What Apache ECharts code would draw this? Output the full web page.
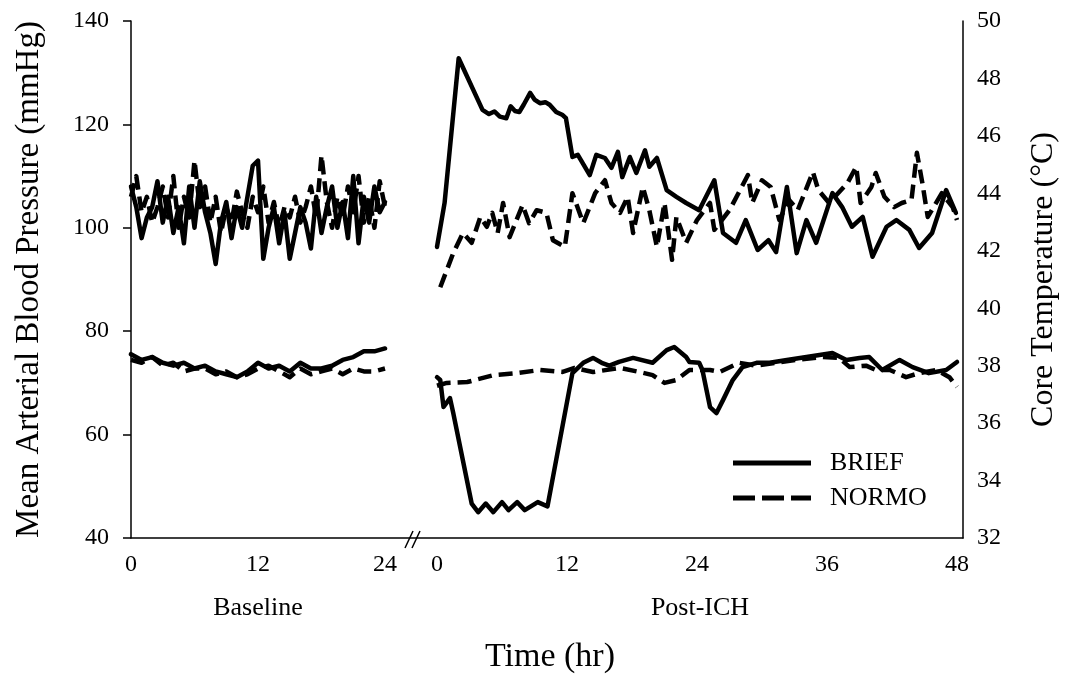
<!DOCTYPE html>
<html>
<head>
<meta charset="utf-8">
<script src="https://cdn.jsdelivr.net/npm/echarts@6/dist/echarts.min.js"></script>
<style>html,body{margin:0;padding:0;background:#fff}#c{width:1068px;height:678px}</style>
</head>
<body>
<div id="c"></div>
<script>
// ---- Data ----
const xTicksBaseline = [0, 12, 24];
const xTicksPost = [0, 12, 24, 36, 48];
const legendNames = ['BRIEF', 'NORMO'];

// Baseline MABP (every 0.5 h, 0..24)
const baseMapT = [0,0.5,1,1.5,2,2.5,3,3.5,4,4.5,5,5.5,6,6.5,7,7.5,8,8.5,9,9.5,10,10.5,11,11.5,12,12.5,13,13.5,14,14.5,15,15.5,16,16.5,17,17.5,18,18.5,19,19.5,20,20.5,21,21.5,22,22.5,23,23.5,24];
const baseBriefMap = [108,104,98,102,104,109,101,106,99,104,97,108,100,109,103,99,93,101,105,98,104,100,106,112,113,94,100,104,97,103,94,99,104,101,96,106,99,104,108,100,105,98,110,97,106,101,108,103,105];
const baseNormoMap = [106,110,103,106,101,104,108,102,110,100,106,102,113,104,108,101,106,99,104,101,107,103,100,106,103,108,101,105,100,104,102,106,101,104,108,102,114,105,100,106,102,108,103,110,101,106,100,109,104];

// Baseline temperature (hourly)
const baseTempT = [0,1,2,3,4,5,6,7,8,9,10,11,12,13,14,15,16,17,18,19,20,21,22,23,24];
const baseBriefTemp = [38.4,38.2,38.3,38.1,38.0,38.1,37.9,38.0,37.8,37.7,37.6,37.8,38.1,37.9,38.0,37.8,38.1,37.9,37.9,38.0,38.2,38.3,38.5,38.5,38.6];
const baseNormoTemp = [38.2,38.1,38.3,38.0,38.1,37.8,37.9,37.9,37.7,37.8,37.6,37.7,37.9,38.0,37.8,37.6,37.9,37.7,37.8,37.9,37.7,37.9,37.8,37.8,37.9];

// Post-ICH MABP
const postBriefMapT = [0,0.7,2,4.2,4.8,5.3,5.8,6.4,6.8,7.2,7.6,8,8.6,9,9.5,10,10.4,11,11.6,11.9,12.5,13,14.1,14.7,15.5,16.1,16.7,17.1,17.8,18.4,19.2,19.6,20.3,21.2,22.1,23,24.2,25.6,26.4,27.6,28.5,29.6,30.6,31.3,32.3,33.2,34.1,35,36.5,37.4,38.3,39.3,40.2,41.5,42.4,43.6,44.5,45.7,47,47.9];
const postBriefMap = [96.3,104.8,132.8,122.8,122.0,122.5,121.5,121.2,123.5,122.6,122.4,123.8,126.1,124.8,124.1,124.3,123.8,122.4,121.8,121.2,113.7,114.1,110.2,114.1,113.5,111.6,114.7,109.8,113.7,110.6,115,111.8,113.5,107.3,106,104.8,103.4,109.2,99,97.1,101.5,95.7,97.6,95.3,107.9,95.1,101.5,97.1,106.7,104,100.2,102.1,94.4,100.2,101.5,99.6,96.1,99,107.3,102.9];
const postNormoMapT = [0.3,1.5,2.4,3.2,4,4.6,5.1,5.6,6.1,6.7,7.9,8.5,9.2,10.1,10.7,11.8,12.5,13.5,14.6,15.5,16.1,16.9,17.6,18.1,19,19.6,20.3,21,21.7,22.1,23,24,25.2,25.6,27,28.7,29.1,30,30.8,31.6,32.5,33.3,34.7,35.2,36.2,37.9,38.7,39.1,40.1,40.5,41.3,42.2,42.9,43.8,44.3,44.8,45.3,46.6,47.6,48];
const postNormoMap = [88.5,95.1,99,97.1,102.1,100.2,102.9,99,104.8,98.2,104.4,100.9,103.4,102.9,97.6,96.3,106.7,100.9,106.7,109.2,104.8,102.9,106,99,107.9,103.4,96.3,104.8,93.8,102.1,97.1,101.5,104.8,99.6,103.4,110.2,104.8,109.2,107.9,101.5,105.4,103.4,110.8,107.3,104.8,108.7,111.8,104.8,107.9,110.6,106,104,104.8,105.4,114.5,108.7,102.1,106.7,104,101.5];

// Post-ICH temperature
const postBriefTempT = [0,0.3,0.6,1.2,1.5,3.2,3.8,4.5,5.2,6,6.6,7.4,8.1,9.3,10.2,12.5,13.5,14.4,15.2,15.9,16.8,18.1,19.9,21.2,21.9,23,23.3,24.2,24.5,25.2,25.8,26.4,27.3,28.2,29.5,30.7,32.3,34.1,35.3,36.5,37.8,39,39.9,41.1,42.7,43.9,45.4,47,48];
const postBriefTemp = [37.6,37.5,36.56,36.87,36.35,33.2,32.9,33.2,32.9,33.25,32.97,33.25,32.97,33.25,33.1,37.74,38.1,38.27,38.1,38.0,38.13,38.27,38.1,38.54,38.65,38.3,38.13,38.1,37.85,36.56,36.35,36.8,37.5,37.95,38.1,38.1,38.2,38.3,38.37,38.44,38.2,38.27,38.3,37.85,38.2,37.95,37.74,37.85,38.13];
const postNormoTempT = [0,0.9,2.8,5.2,7.4,9.5,11.6,12.7,14.4,16.9,18.7,19.9,21,22.1,23.3,24,25.2,26.1,27.9,29.5,31.3,33.2,35.6,37.1,38.1,39.6,40.5,41.8,43.3,44.5,46.1,47.3,48];
const postNormoTemp = [37.3,37.4,37.43,37.67,37.74,37.85,37.78,37.92,37.78,37.92,37.78,37.67,37.4,37.5,37.85,37.85,37.85,37.78,38.1,38.0,38.1,38.2,38.3,38.27,37.95,38.0,37.85,37.85,37.6,37.74,37.85,37.6,37.26];

// ---- Chart ----
const FONT = '"Liberation Serif", "DejaVu Serif", serif';
const zip = (a, b) => a.map((t, i) => [t, b[i]]);
const chart = echarts.init(document.getElementById('c'), null, {renderer: 'canvas'});

const DASH = [14, 7];
const solid = {color: '#000', width: 4.5, type: 'solid', join: 'round', cap: 'round'};
const dashed = {color: '#000', width: 4.5, type: DASH, join: 'round'};
function mk(name, data, xi, yi, ls) {
  return {name, type: 'line', xAxisIndex: xi, yAxisIndex: yi, data, symbol: 'none', showSymbol: false,
    lineStyle: ls, itemStyle: {color: '#000'}, animation: false, z: name === 'BRIEF' ? 3 : 2};
}

const GL = 131, GR = 963, GT = 21, GB = 538;
const baseScale = (385 - GL) / 24;
const postScale = (957 - 437) / 48;
const postMin = -(437 - GL) / postScale;
const tickFont = {fontFamily: FONT, fontSize: 24, color: '#000'};

const option = {
  backgroundColor: '#fff',
  animation: false,
  grid: {left: GL, right: 1068 - GR, top: GT, bottom: 678 - GB, containLabel: false},
  xAxis: [
    {type: 'value', min: 0, max: (GR - GL) / baseScale, position: 'bottom',
      axisLine: {show: true, onZero: false, lineStyle: {color: '#000', width: 1.5}},
      axisTick: {show: false}, splitLine: {show: false},
      axisLabel: Object.assign({customValues: xTicksBaseline, margin: 15}, tickFont)},
    {type: 'value', min: postMin, max: postMin + (GR - GL) / postScale, position: 'bottom',
      axisLine: {show: false}, axisTick: {show: false}, splitLine: {show: false},
      axisLabel: Object.assign({customValues: xTicksPost, margin: 15}, tickFont)}
  ],
  yAxis: [
    {type: 'value', min: 40, max: 140, interval: 20, position: 'left',
      name: 'Mean Arterial Blood Pressure (mmHg)', nameLocation: 'middle', nameGap: 85,
      nameTextStyle: {fontFamily: FONT, fontSize: 33, color: '#000'},
      axisLine: {show: true, onZero: false, lineStyle: {color: '#000', width: 1.5}},
      axisTick: {show: true, inside: false, length: 8, lineStyle: {color: '#000', width: 1.5}},
      splitLine: {show: false},
      axisLabel: Object.assign({margin: 22}, tickFont)},
    {type: 'value', min: 32, max: 50, interval: 2, position: 'right',
      name: 'Core Temperature (°C)', nameLocation: 'middle', nameGap: 65, nameRotate: 90,
      nameTextStyle: {fontFamily: FONT, fontSize: 32, color: '#000'},
      axisLine: {show: true, onZero: false, lineStyle: {color: '#000', width: 1.5}},
      axisTick: {show: false}, splitLine: {show: false},
      axisLabel: Object.assign({margin: 14}, tickFont)}
  ],
  series: [
    mk(legendNames[1], zip(baseMapT, baseNormoMap), 0, 0, dashed),
    mk(legendNames[0], zip(baseMapT, baseBriefMap), 0, 0, solid),
    mk(legendNames[1], zip(baseTempT, baseNormoTemp), 0, 1, dashed),
    mk(legendNames[0], zip(baseTempT, baseBriefTemp), 0, 1, solid),
    mk(legendNames[1], zip(postNormoMapT, postNormoMap), 1, 0, dashed),
    mk(legendNames[0], zip(postBriefMapT, postBriefMap), 1, 0, solid),
    mk(legendNames[1], zip(postNormoTempT, postNormoTemp), 1, 1, dashed),
    mk(legendNames[0], zip(postBriefTempT, postBriefTemp), 1, 1, solid)
  ],
  graphic: [
    // axis break marks
    {type: 'line', shape: {x1: 405, y1: 548, x2: 413, y2: 531}, style: {stroke: '#000', lineWidth: 1.5}, z: 101},
    {type: 'line', shape: {x1: 412, y1: 548, x2: 420, y2: 531}, style: {stroke: '#000', lineWidth: 1.5}, z: 101},
    // legend
    {type: 'line', shape: {x1: 733, y1: 463, x2: 811, y2: 463}, style: {stroke: '#000', lineWidth: 5}, z: 101},
    {type: 'line', shape: {x1: 733, y1: 498, x2: 811, y2: 498}, style: {stroke: '#000', lineWidth: 5, lineDash: [22, 7]}, z: 101},
    {type: 'text', x: 830, y: 463, style: {text: legendNames[0], font: '26px ' + FONT, fill: '#000', align: 'left', verticalAlign: 'middle'}, z: 101},
    {type: 'text', x: 830, y: 498, style: {text: legendNames[1], font: '26px ' + FONT, fill: '#000', align: 'left', verticalAlign: 'middle'}, z: 101},
    // axis group labels
    {type: 'text', x: 258, y: 608, style: {text: 'Baseline', font: '26px ' + FONT, fill: '#000', align: 'center', verticalAlign: 'middle'}},
    {type: 'text', x: 700, y: 608, style: {text: 'Post-ICH', font: '26px ' + FONT, fill: '#000', align: 'center', verticalAlign: 'middle'}},
    {type: 'text', x: 550, y: 657, style: {text: 'Time (hr)', font: '34px ' + FONT, fill: '#000', align: 'center', verticalAlign: 'middle'}}
  ]
};
chart.setOption(option);
</script>
</body>
</html>
